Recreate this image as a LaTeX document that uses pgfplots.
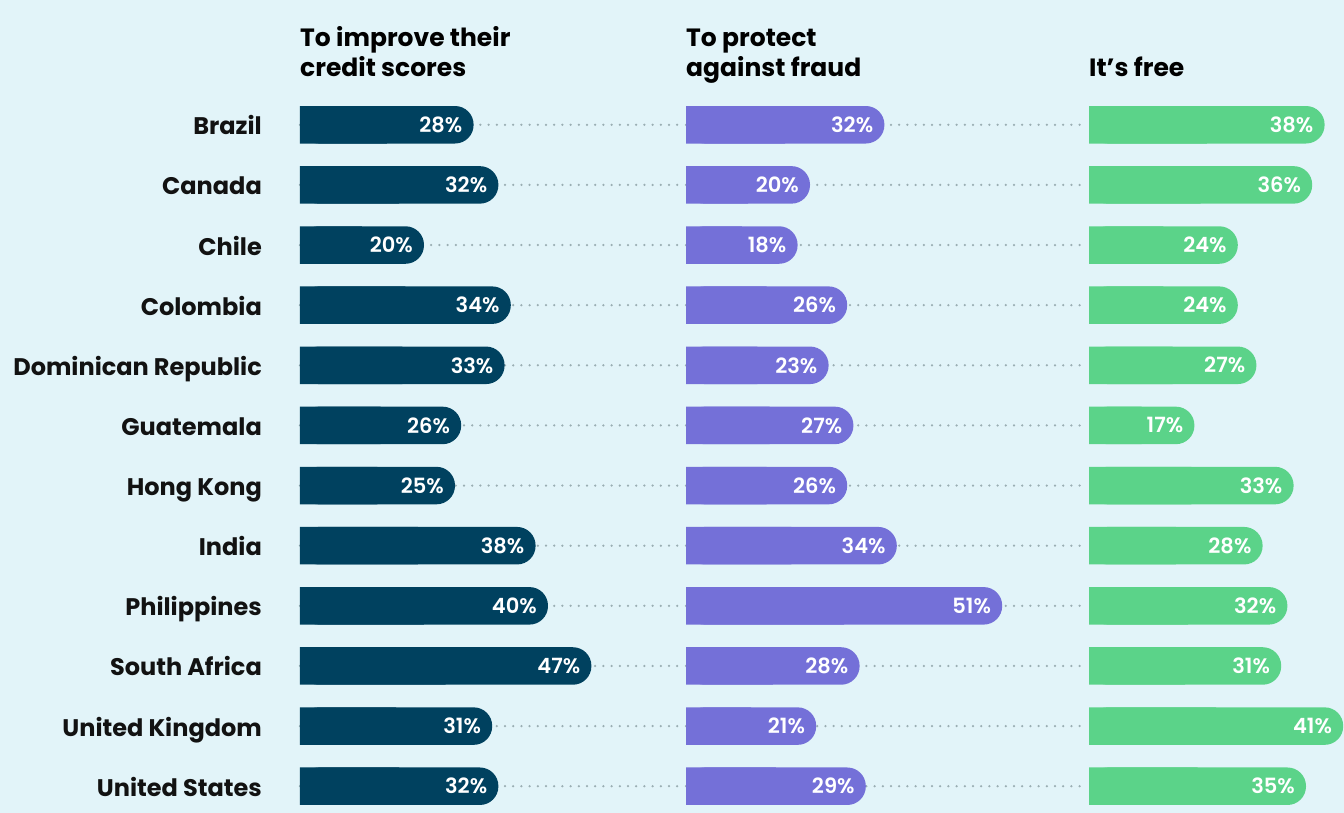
\documentclass[border=0pt]{standalone}
\usepackage{fontspec}
\setmainfont{Poppins}
\newfontfamily\labfont{Poppins}[UprightFont=* SemiBold]
\usepackage{pgfplots}
\pgfplotsset{compat=1.18}
\usepackage{pgfplotstable}

\definecolor{bgc}{HTML}{E2F4F9}
\definecolor{cnavy}{HTML}{00415F}
\definecolor{cviolet}{HTML}{7470D8}
\definecolor{cgreen}{HTML}{5BD389}
\definecolor{dotc}{HTML}{9AAEB3}

% row, the three shares, and where the dotted guide of columns 1 and 2 stops
\pgfplotstableread{
row c1 c2 c3 d1 d2
0  28 32 38 61.6 64.4
1  32 20 36 61.6 64.4
2  20 18 24 61.6 64.4
3  34 26 24 61.6 64.4
4  33 23 27 61.6 64.4
5  26 27 17 61.6 64.4
6  25 26 33 61.6 64.4
7  38 34 28 61.6 64.4
8  40 51 32 61.6 64.4
9  47 28 31 61.6 64.4
10 31 21 41 61.6 64.4
11 32 29 35 61.6 64.4
}\data

\pgfplotsset{
  col/.style={
    scale only axis, height=721.6pt,
    ymin=-0.5, ymax=11.5, y dir=reverse, xmin=0,
    axis line style={draw=none}, xtick=\empty, ytick=\empty,
    major tick length=0pt, anchor=north west, clip=false,
    /pgf/number format/assume math mode=true,
    title style={at={(0,1)}, anchor=south west, yshift=11.7pt,
      inner sep=0pt, text depth=0pt, align=left,
      font=\fontsize{25}{30}\selectfont\bfseries},
  },
  pill/.style={xbar, bar shift=0pt, bar width=37.5pt, fill=#1,
    draw=none, rounded corners=18.5pt},
  sq/.style={xbar, bar shift=0pt, bar width=37.5pt, fill=#1,
    draw=none, forget plot},
  dots/.style={xcomb, draw=dotc, line width=2.5pt, line cap=round,
    dash pattern=on 0pt off 8.2pt, mark=none, forget plot},
  lab/.style={nodes near coords={\pgfmathprintnumber{\pgfplotspointmeta}\%},
    point meta=x,
    every node near coord/.style={anchor=east, xshift=-11pt,
      inner sep=0pt, text=white,
      font=\fontsize{21}{21}\labfont}},
}

\begin{document}
\begin{tikzpicture}
\useasboundingbox (0pt,0pt) rectangle (1344pt,813pt);
\fill[bgc] (0pt,0pt) rectangle (1344pt,813pt);

\begin{axis}[col, at={(300pt,718.3pt)}, width=386pt, xmax=62.26,
  title={To improve their\\credit scores},
  ytick={0,...,11},
  yticklabels={Brazil,Canada,Chile,Colombia,Dominican Republic,Guatemala,
    Hong Kong,India,Philippines,South Africa,United Kingdom,United States},
  yticklabel style={anchor=base east, inner sep=0pt, xshift=-38pt,
    yshift=-10pt, text=black!93,
    font=\fontsize{24}{24}\selectfont\bfseries}]
  \addplot[dots] table[x=d1, y=row] {\data};
  \addplot[pill=cnavy, lab] table[x=c1, y=row] {\data};
  \addplot[sq=cnavy] table[x expr=\thisrow{c1}/2, y=row] {\data};
\end{axis}

\begin{axis}[col, at={(686pt,718.3pt)}, width=403pt, xmax=65,
  title={To protect\\against fraud}]
  \addplot[dots] table[x=d2, y=row] {\data};
  \addplot[pill=cviolet, lab] table[x=c2, y=row] {\data};
  \addplot[sq=cviolet] table[x expr=\thisrow{c2}/2, y=row] {\data};
\end{axis}

\begin{axis}[col, at={(1089pt,718.3pt)}, width=255pt, xmax=41.13,
  title={It’s free}]
  \addplot[pill=cgreen, lab] table[x=c3, y=row] {\data};
  \addplot[sq=cgreen] table[x expr=\thisrow{c3}/2, y=row] {\data};
\end{axis}
\end{tikzpicture}
\end{document}
